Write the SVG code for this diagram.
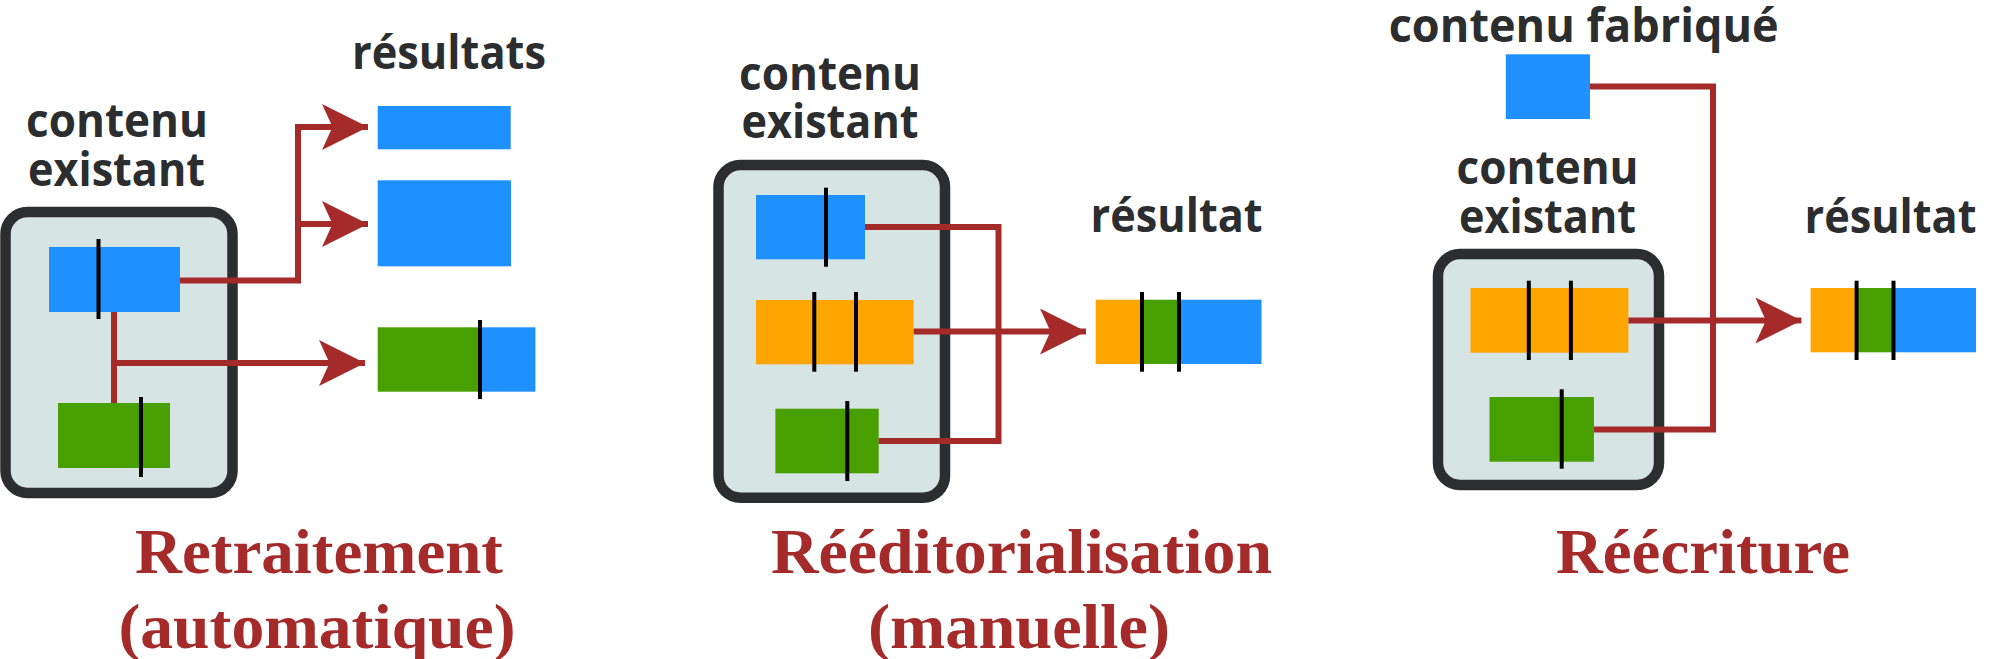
<svg xmlns="http://www.w3.org/2000/svg" width="1999" height="659" viewBox="0 0 1999 659">
<style>
.lbl{font-family:"Open Sans","Noto Sans","DejaVu Sans",sans-serif;font-weight:700;font-size:46px;fill:#2b2d2f;text-anchor:middle}
.cap{font-family:"Liberation Serif","DejaVu Serif",serif;font-weight:700;font-size:64px;fill:#a52a2a;text-anchor:middle}
.box{fill:#d6e4e4;stroke:#2b2d2f;stroke-width:10.5}
.b{fill:#1e90ff}.o{fill:#ffa500}.g{fill:#48a000}
.sep{stroke:#000;stroke-width:4}
.con{fill:none;stroke:#a52a2a;stroke-width:6}
</style>
<defs>
<marker id="ah" markerUnits="userSpaceOnUse" markerWidth="46" markerHeight="46" refX="46" refY="23" orient="auto" viewBox="0 0 46 46">
<path d="M0,0 L46,23 L0,46 L10.5,23 Z" fill="#a52a2a"/>
</marker>
</defs>
<rect width="1999" height="659" fill="#fff"/>

<!-- Section 1 -->
<g id="s1-label">
<text class="lbl" x="117" y="137" textLength="182" lengthAdjust="spacingAndGlyphs">contenu</text>
<text class="lbl" x="116.5" y="186" textLength="177" lengthAdjust="spacingAndGlyphs">existant</text>
</g>
<g id="s1-box">
<rect class="box" x="5.5" y="212" width="227" height="281" rx="22"/>
<rect class="b" x="49" y="247" width="131" height="65"/>
<line class="sep" x1="98.5" y1="239" x2="98.5" y2="319"/>
<rect class="g" x="58" y="403" width="112" height="65"/>
<line class="sep" x1="141" y1="397" x2="141" y2="477"/>
</g>
<g id="s1-results">
<text class="lbl" x="449" y="69" textLength="194" lengthAdjust="spacingAndGlyphs">résultats</text>
<rect class="b" x="377.7" y="106" width="133" height="43.3"/>
<rect class="b" x="377.7" y="180.3" width="133.3" height="86"/>
<rect class="g" x="377.7" y="327.3" width="102.3" height="64.4"/>
<rect class="b" x="480" y="327.3" width="55.4" height="64.4"/>
<line class="sep" x1="480" y1="320" x2="480" y2="399"/>
</g>
<g id="s1-caption">
<text class="cap" x="319" y="573" textLength="368" lengthAdjust="spacingAndGlyphs">Retraitement</text>
<text class="cap" x="317" y="648" textLength="397" lengthAdjust="spacingAndGlyphs">(automatique)</text>
</g>

<!-- Section 2 -->
<g id="s2-label">
<text class="lbl" x="830" y="90" textLength="182" lengthAdjust="spacingAndGlyphs">contenu</text>
<text class="lbl" x="830" y="138" textLength="177" lengthAdjust="spacingAndGlyphs">existant</text>
</g>
<g id="s2-box">
<rect class="box" x="718.5" y="165" width="226.5" height="332.7" rx="22"/>
<rect class="b" x="756" y="195" width="109" height="64.3"/>
<line class="sep" x1="826" y1="187.7" x2="826" y2="266.7"/>
<rect class="o" x="756" y="300" width="157.7" height="64.3"/>
<line class="sep" x1="814.3" y1="292" x2="814.3" y2="371.7"/>
<line class="sep" x1="856" y1="292" x2="856" y2="371.7"/>
<rect class="g" x="775.4" y="408.7" width="103.3" height="64.6"/>
<line class="sep" x1="847.3" y1="401" x2="847.3" y2="481"/>
</g>
<g id="s2-result">
<text class="lbl" x="1176.6" y="232" textLength="172" lengthAdjust="spacingAndGlyphs">résultat</text>
<rect class="o" x="1095.7" y="299.7" width="46.3" height="64.3"/>
<rect class="g" x="1142" y="299.7" width="37" height="64.3"/>
<rect class="b" x="1179" y="299.7" width="82.5" height="64.3"/>
<line class="sep" x1="1142" y1="292" x2="1142" y2="371.7"/>
<line class="sep" x1="1179" y1="292" x2="1179" y2="371.7"/>
</g>
<g id="s2-caption">
<text class="cap" x="1021.5" y="573" textLength="501" lengthAdjust="spacingAndGlyphs">Rééditorialisation</text>
<text class="cap" x="1019" y="648" textLength="302" lengthAdjust="spacingAndGlyphs">(manuelle)</text>
</g>

<!-- Section 3 -->
<g id="s3-fabrique">
<text class="lbl" x="1583.7" y="41.7" textLength="390" lengthAdjust="spacingAndGlyphs">contenu fabriqué</text>
<rect class="b" x="1505.8" y="54.3" width="84.2" height="64.7"/>
</g>
<g id="s3-label">
<text class="lbl" x="1547.6" y="184.3" textLength="182" lengthAdjust="spacingAndGlyphs">contenu</text>
<text class="lbl" x="1547.5" y="233.3" textLength="177" lengthAdjust="spacingAndGlyphs">existant</text>
</g>
<g id="s3-box">
<rect class="box" x="1438" y="254" width="221" height="231" rx="22"/>
<rect class="o" x="1470.5" y="288" width="157.9" height="64.7"/>
<line class="sep" x1="1528.8" y1="280.7" x2="1528.8" y2="360"/>
<line class="sep" x1="1570.9" y1="280.7" x2="1570.9" y2="360"/>
<rect class="g" x="1489.5" y="397" width="104.4" height="64.7"/>
<line class="sep" x1="1561.7" y1="389.3" x2="1561.7" y2="468.7"/>
</g>
<g id="s3-result">
<text class="lbl" x="1890.5" y="233.3" textLength="172" lengthAdjust="spacingAndGlyphs">résultat</text>
<rect class="o" x="1810.6" y="288" width="46" height="64.3"/>
<rect class="g" x="1856.6" y="288" width="36.9" height="64.3"/>
<rect class="b" x="1893.5" y="288" width="82.5" height="64.3"/>
<line class="sep" x1="1856.6" y1="280.7" x2="1856.6" y2="360"/>
<line class="sep" x1="1893.5" y1="280.7" x2="1893.5" y2="360"/>
</g>
<g id="s3-caption">
<text class="cap" x="1703" y="573" textLength="294" lengthAdjust="spacingAndGlyphs">Réécriture</text>
</g>

<g id="connectors">
<path class="con" d="M180,280.5 H298 V127 H368" marker-end="url(#ah)"/>
<path class="con" d="M298,224 H368" marker-end="url(#ah)"/>
<path class="con" d="M114,312 V403"/>
<path class="con" d="M114,363 H365" marker-end="url(#ah)"/>
<path class="con" d="M865,227 H998.5 V441 H878.7"/>
<path class="con" d="M913.7,331.5 H1086" marker-end="url(#ah)"/>
<path class="con" d="M1590,86.5 H1713 V429.5 H1593.9"/>
<path class="con" d="M1628.4,320.5 H1801.4" marker-end="url(#ah)"/>
</g>
</svg>
